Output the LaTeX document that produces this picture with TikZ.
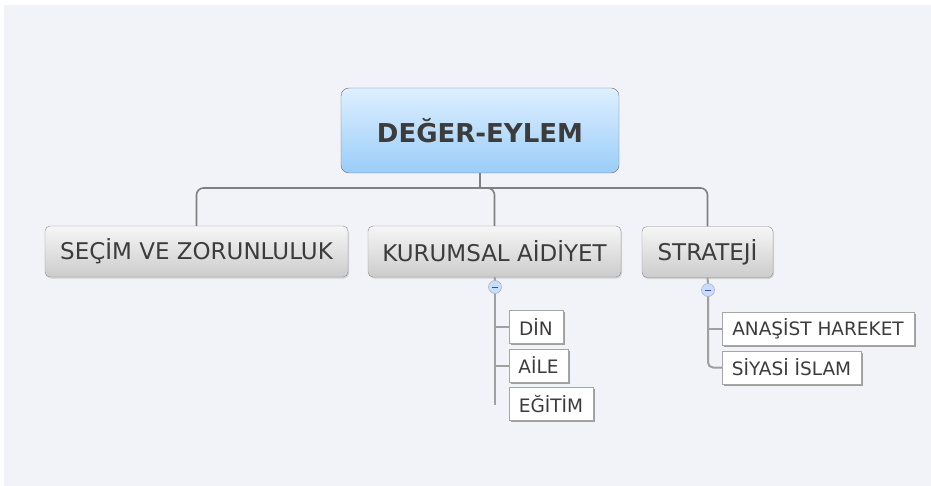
\documentclass[tikz,border=0pt]{standalone}
\usepackage{fontspec}
\setmainfont{DejaVu Sans}
\usepackage{xcolor}
\usepackage{tikz}
\usetikzlibrary{positioning,shadows}
\definecolor{bgcolor}{RGB}{242,243,248}
\definecolor{roottop}{RGB}{222,239,255}
\definecolor{rootbot}{RGB}{154,205,248}
\definecolor{topictop}{RGB}{246,246,246}
\definecolor{topicbot}{RGB}{204,204,204}
\definecolor{edgegray}{RGB}{128,128,128}
\definecolor{subgray}{RGB}{160,160,160}
\definecolor{txtgray}{RGB}{60,60,60}
\definecolor{foldblue}{RGB}{200,221,246}

\begin{document}
\begin{tikzpicture}[
  x=1pt, y=-1pt,
  root/.style={draw=gray!85!black, rounded corners=8pt, top color=roottop, bottom color=rootbot,
    inner sep=0pt, minimum width=278pt, minimum height=85pt, text=txtgray,
    font=\fontsize{26}{30}\selectfont\bfseries},
  topic/.style={draw=edgegray!90, rounded corners=5pt, top color=topictop, bottom color=topicbot,
    inner sep=0pt, minimum height=51pt, text=txtgray, font=\fontsize{23}{27}\selectfont,
    drop shadow={shadow xshift=1pt, shadow yshift=-1.5pt, fill=gray!50, opacity=.6}},
  leaf/.style={draw=gray!70, fill=white, inner sep=0pt, minimum height=33pt, text=txtgray,
    font=\fontsize{18.5}{22}\selectfont,
    drop shadow={shadow xshift=1.5pt, shadow yshift=-1.5pt, fill=gray!75, opacity=1}},
  fold/.style={circle, draw=blue!30!gray!60, fill=foldblue, inner sep=0pt, minimum size=13pt},
  conn/.style={draw=edgegray, line width=1.6pt, rounded corners=7pt},
  sub/.style={draw=subgray, line width=2pt}
]
  % Canvas
  \useasboundingbox (0,0) rectangle (931,486);
  \fill[bgcolor] (4,5) rectangle (931,486);

  % Central topic
  \node[root] (root) at (480,130.5) {DEĞER-EYLEM};

  % Main topics
  \node[topic, minimum width=303pt] (secim) at (196.5,251.5) {SEÇİM VE ZORUNLULUK};
  \node[topic, minimum width=253pt] (kurumsal) at (494.5,251.5) {KURUMSAL AİDİYET};
  \node[topic, minimum width=131pt] (strateji) at (707.5,252) {STRATEJİ};

  % Fold markers
  \node[fold] (kfold) at (495,287) {};
  \node[fold] (sfold) at (708,290) {};
  \draw[blue!45!gray, line width=1pt] ([xshift=-3pt]kfold.center) -- ([xshift=3pt]kfold.center);
  \draw[blue!45!gray, line width=1pt] ([xshift=-3pt]sfold.center) -- ([xshift=3pt]sfold.center);

  % Subtopics
  \node[leaf, minimum width=54pt] (din) at (536,327) {DİN};
  \node[leaf, minimum width=59pt] (aile) at (538.5,365.5) {AİLE};
  \node[leaf, minimum width=84pt] (egitim) at (551,404) {EĞİTİM};
  \node[leaf, minimum width=192pt] (anasist) at (818,328.5) {ANAŞİST HAREKET};
  \node[leaf, minimum width=139pt] (siyasi) at (791.5,367.5) {SİYASİ İSLAM};

  \coordinate (hub) at (480,188);
  \coordinate (kend) at (495,405);

  % Edges
  \draw[conn] (root.south) -- (hub);
  \draw[conn] (hub) -| (secim.north);
  \draw[conn] (hub) -| (kurumsal.north);
  \draw[conn] (hub) -| (strateji.north);

  \draw[sub] (kurumsal.south) -- (kfold.north);
  \draw[sub] (kfold.south) -- (kend);
  \draw[sub] (din.west -| kfold) -- (din.west);
  \draw[sub] (aile.west -| kfold) -- (aile.west);

  \draw[sub] (strateji.south) -- (sfold.north);
  \draw[sub, rounded corners=5pt] (sfold.south) |- (siyasi.west);
  \draw[sub] (anasist.west -| sfold) -- (anasist.west);

\end{tikzpicture}
\end{document}
